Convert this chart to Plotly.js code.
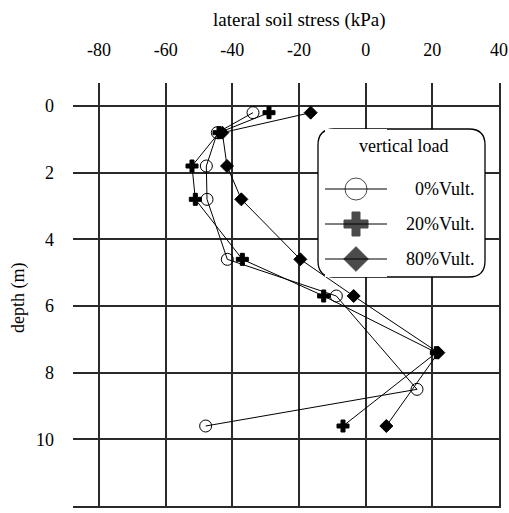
<!DOCTYPE html>
<html>
<head>
<meta charset="utf-8">
<script src="https://cdn.plot.ly/plotly-3.0.1.min.js"></script>
<style>html,body{margin:0;padding:0;background:#fff;}#chart{width:509px;height:513px;}</style>
</head>
<body>
<div id="chart"></div>
<script>
// ---- data ----
const seriesNames = ['0%Vult.', '20%Vult.', '80%Vult.'];
const depth0 = [0.2, 0.8, 1.8, 2.8, 4.6, 5.7, 8.5, 9.6];
const stress0 = [-33.8, -44.5, -47.8, -47.6, -41.5, -8.8, 15.4, -48.0];
const depth20 = [0.2, 0.8, 1.8, 2.8, 4.6, 5.7, 7.4, 9.6];
const stress20 = [-29.0, -44.0, -52.1, -51.1, -37.0, -12.6, 21.2, -6.8];
const depth80 = [0.2, 0.8, 1.8, 2.8, 4.6, 5.7, 7.4, 9.6];
const stress80 = [-16.5, -43.0, -41.6, -37.3, -19.6, -3.6, 21.8, 6.2];
const xTicks = [-80, -60, -40, -20, 0, 20, 40];
const yTicks = [0, 2, 4, 6, 8, 10, 12];
const xTitle = 'lateral soil stress (kPa)';
const yTitle = 'depth (m)';
const legendTitle = 'vertical load';

// ---- styles ----
const FONT = 'Liberation Serif';
const symbols = ['circle-open', 'cross', 'diamond'];
const sizes = [12, 10, 10];
const legSizes = [22, 20, 19];
const xs = [stress0, stress20, stress80];
const ys = [depth0, depth20, depth80];

const traces = [];
for (let i = 0; i < 3; i++) {
  traces.push({
    x: xs[i], y: ys[i], type: 'scatter', mode: 'lines+markers',
    name: seriesNames[i], showlegend: false,
    line: {color: '#000', width: 1},
    marker: {symbol: symbols[i], size: sizes[i], color: '#000', line: {color: '#000', width: 1}},
    xaxis: 'x', yaxis: 'y', hoverinfo: 'skip', cliponaxis: false
  });
}
// custom legend samples (own small axes inside the legend box)
const legRowY = [189, 224, 259];
for (let i = 0; i < 3; i++) {
  traces.push({
    x: [0, 0.5, 1], y: [legRowY[i], legRowY[i], legRowY[i]],
    type: 'scatter', mode: 'lines+markers', showlegend: false,
    line: {color: '#000', width: 1},
    marker: {symbol: symbols[i], size: [0, legSizes[i], 0], color: '#000', line: {color: '#000', width: 1}},
    xaxis: 'x2', yaxis: 'y2', hoverinfo: 'skip', cliponaxis: false
  });
}

// plot area (incl. grid overhang): left 73, top 83; value -80 at px 99, 40 at px 499; depth 0 at px 106, 12 at px 506
const XPX = 400 / 120, YPX = 400 / 12;       // px per unit
const L = 73, T = 83, R = 499, B = 506;
const W = R - L, H = B - T;
const xMin = -80 - (99 - L) / XPX, xMax = xTicks[xTicks.length - 1];
const yMin = 0 - (106 - T) / YPX, yMax = yTicks[yTicks.length - 1];
const px2x = p => (p - L) / W;
const py2y = p => (B - p) / H;

// legend box (rounded) in data coords of main axes
const bx0 = 318, bx1 = 485, by0 = 129, by1 = 277, r = 16;
const dx = p => -80 + (p - 99) / XPX;
const dy = p => (p - 106) / YPX;
const rx = r / XPX, ry = r / YPX;
const path = `M${dx(bx0)+rx},${dy(by0)} L${dx(bx1)-rx},${dy(by0)} Q${dx(bx1)},${dy(by0)} ${dx(bx1)},${dy(by0)+ry} ` +
  `L${dx(bx1)},${dy(by1)-ry} Q${dx(bx1)},${dy(by1)} ${dx(bx1)-rx},${dy(by1)} ` +
  `L${dx(bx0)+rx},${dy(by1)} Q${dx(bx0)},${dy(by1)} ${dx(bx0)},${dy(by1)-ry} ` +
  `L${dx(bx0)},${dy(by0)+ry} Q${dx(bx0)},${dy(by0)} ${dx(bx0)+rx},${dy(by0)} Z`;

const gridColor = '#2a2a2a';
const GW = 1.8;
const tf = {family: FONT, size: 18, color: '#000'};
const titleFont = {family: FONT, size: 19, color: '#000'};
const layout = {
  width: 509, height: 513,
  margin: {l: L, r: 509 - R, t: T, b: 513 - B, pad: 0},
  paper_bgcolor: '#fff', plot_bgcolor: '#fff',
  font: tf,
  showlegend: false,
  xaxis: {
    side: 'top', range: [xMin, xMax], tickvals: xTicks, ticktext: xTicks.map(String),
    showgrid: true, gridcolor: gridColor, gridwidth: GW,
    zeroline: false, showline: false, ticks: '',
    ticklabelstandoff: 22,
    tickfont: tf,
    fixedrange: true
  },
  yaxis: {
    range: [yMax, yMin], tickvals: yTicks, ticktext: yTicks.map(String),
    showgrid: true, gridcolor: gridColor, gridwidth: GW,
    zeroline: false, showline: false, ticks: '',
    ticklabelstandoff: 18,
    tickfont: tf,
    fixedrange: true
  },
  // overlay axes whose axis lines form the outermost grid lines (stress 40 at right, depth 12 at bottom)
  xaxis3: {overlaying: 'x', side: 'bottom', anchor: 'y', range: [xMin, xMax], showline: true, linecolor: gridColor, linewidth: GW,
           showgrid: false, zeroline: false, showticklabels: false, ticks: '', fixedrange: true},
  yaxis3: {overlaying: 'y', side: 'right', anchor: 'x', range: [yMax, yMin], showline: true, linecolor: gridColor, linewidth: GW,
           showgrid: false, zeroline: false, showticklabels: false, ticks: '', fixedrange: true},
  xaxis2: {domain: [px2x(325), px2x(387)], range: [0, 1], visible: false, anchor: 'y2', fixedrange: true},
  yaxis2: {domain: [py2y(by1), py2y(by0)], range: [by1, by0], visible: false, anchor: 'x2', fixedrange: true},
  shapes: [
    {type: 'path', path: path, xref: 'x', yref: 'y', layer: 'between', fillcolor: '#fff', line: {color: '#000', width: 1.3}}
  ],
  annotations: [
    {text: xTitle, xref: 'paper', yref: 'paper', x: px2x(299.5), y: py2y(20), xanchor: 'center', yanchor: 'middle', showarrow: false, font: titleFont},
    {text: yTitle, xref: 'paper', yref: 'paper', x: px2x(18), y: py2y(298), xanchor: 'center', yanchor: 'middle', textangle: -90, showarrow: false, font: tf},
    {text: legendTitle, xref: 'paper', yref: 'paper', x: px2x(403), y: py2y(146), xanchor: 'center', yanchor: 'middle', showarrow: false, font: tf}
  ].concat(seriesNames.map((n, i) => ({
    text: n, xref: 'paper', yref: 'paper', x: px2x(476), y: py2y(legRowY[i]), xanchor: 'right', yanchor: 'middle', showarrow: false,
    font: tf
  })))
};

// empty traces so the overlay axes are drawn
traces.push({x: [], y: [], type: 'scatter', xaxis: 'x3', yaxis: 'y3', showlegend: false, hoverinfo: 'skip'});

Plotly.newPlot('chart', traces, layout, {staticPlot: true, displayModeBar: false});
</script>
</body>
</html>
